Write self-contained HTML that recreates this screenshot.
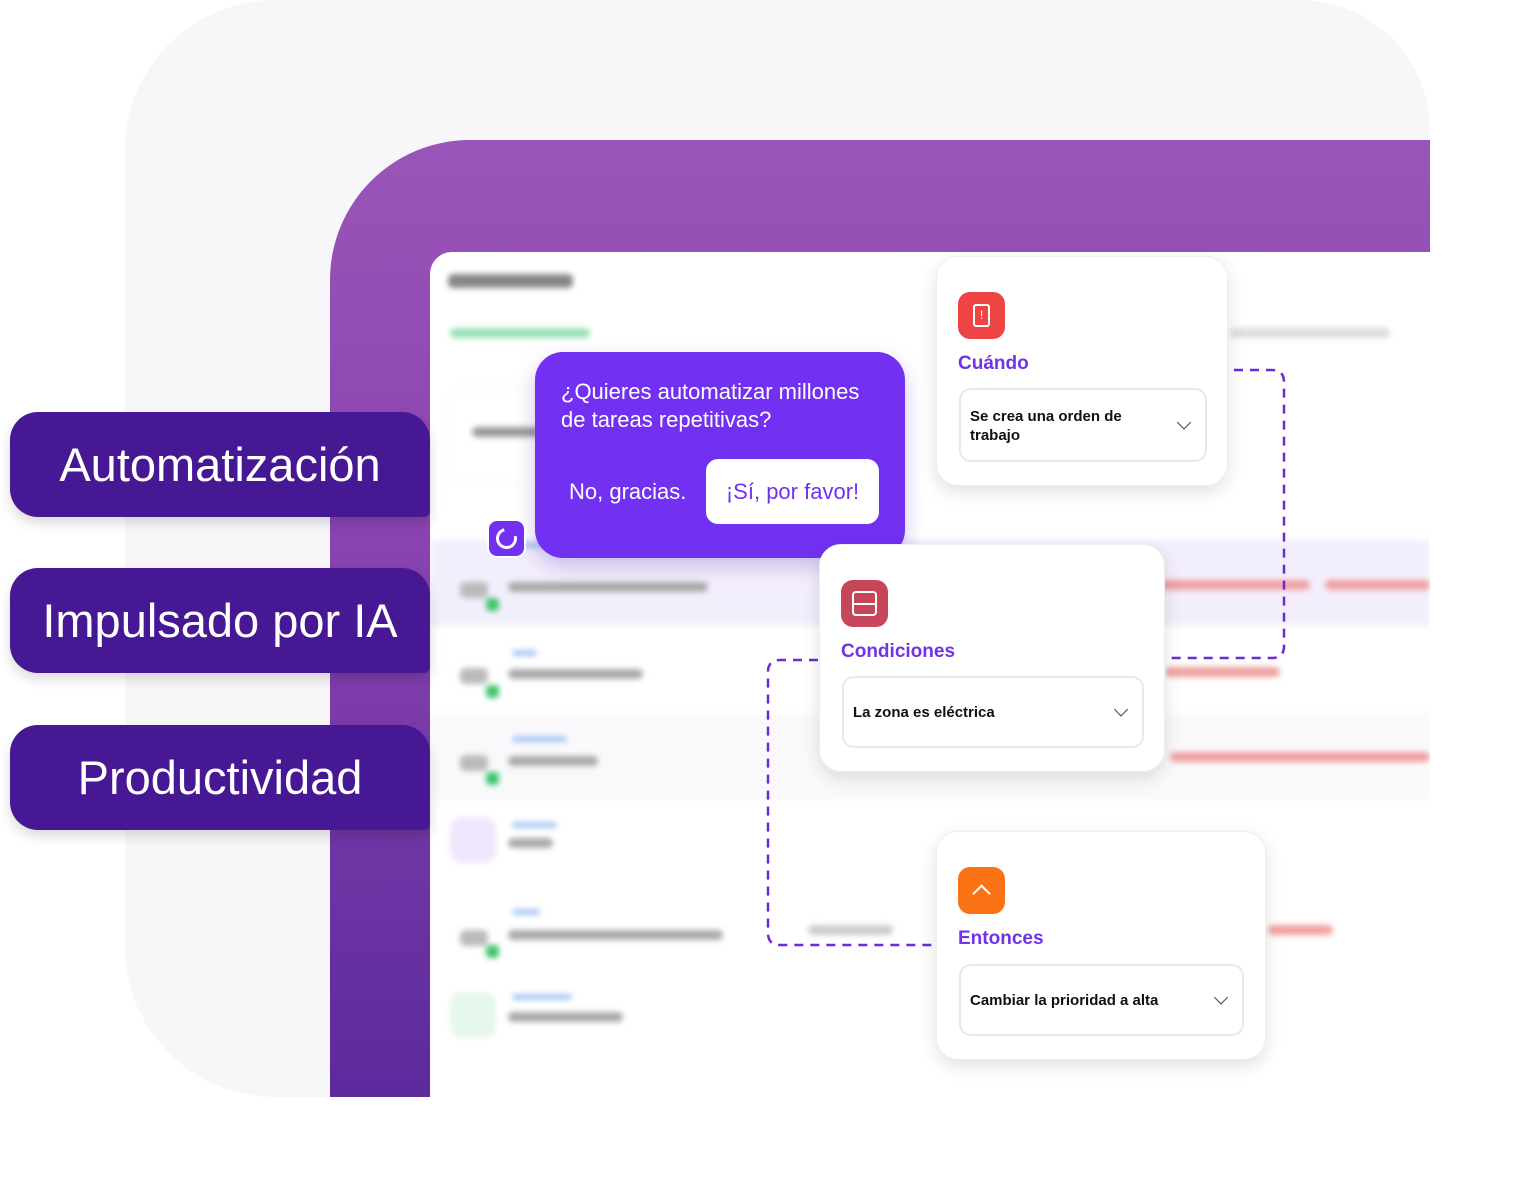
<!DOCTYPE html>
<html><head><meta charset="utf-8"><style>
*{margin:0;padding:0;box-sizing:border-box}
body{width:1536px;height:1189px;background:#fff;position:relative;overflow:hidden;font-family:"Liberation Sans",sans-serif}
.abs{position:absolute}
.gray{left:125px;top:0;width:1305px;height:1097px;background:#f7f7f9;border-radius:150px 130px 0 150px}
.purp{left:330px;top:140px;width:1100px;height:957px;border-top-left-radius:140px;background:linear-gradient(180deg,#9a55b8 0%,#8a44b0 40%,#5b2a9c 100%)}
.panel{left:430px;top:252px;width:1000px;height:845px;background:#fff;border-top-left-radius:22px;overflow:hidden}
.blur{filter:blur(3px)}
.pill{left:10px;width:420px;height:105px;background:#461893;border-radius:28px 28px 6px 28px;color:#fff;font-size:47px;text-align:center;line-height:105px;box-shadow:0 6px 12px rgba(0,0,0,.15)}
.pop{left:535px;top:352px;width:370px;height:206px;background:#7230f0;border-radius:28px;color:#fff;box-shadow:0 8px 20px rgba(80,30,180,.25)}
.card{background:#fff;border-radius:22px;box-shadow:0 6px 18px rgba(0,0,0,.12);border:1px solid #eee}
.icon{width:47px;height:47px;border-radius:12px}
.lbl{color:#7232e8;font-size:19px;font-weight:bold}
.sel{border:2px solid #e8e8ee;border-radius:12px;color:#111;font-size:15px;font-weight:bold}
.chev{position:absolute;right:16px;top:50%;width:10px;height:10px;border-right:1.5px solid #444;border-bottom:1.5px solid #444;transform:translateY(-75%) rotate(45deg)}
.row{position:absolute;left:0;width:1000px;height:86px}
.t{position:absolute;height:10px;border-radius:5px}
</style></head><body>
<div class="abs gray"></div>
<div class="abs purp"></div>
<div class="abs panel">
 <div class="blur">
  <div class="t" style="left:18px;top:22px;width:125px;height:14px;background:#888"></div>
  <div class="t" style="left:20px;top:76px;width:140px;background:#9be0b5"></div>
  <div class="t" style="left:800px;top:76px;width:160px;background:#ddd"></div>
  <div class="abs" style="left:20px;top:135px;width:120px;height:95px;border:1px solid #eee;border-radius:14px"></div>
  <div class="t" style="left:42px;top:175px;width:70px;background:#999"></div>
  <div class="row" style="top:288px;background:#f3eefc"></div>
  <div class="row" style="top:462px;background:#f9f9fb"></div>
  <div class="t" style="left:30px;top:330px;width:28px;height:16px;background:#bbb"></div>
  <div class="t" style="left:78px;top:330px;width:200px;background:#aaa"></div>
  <div class="t" style="left:730px;top:328px;width:150px;background:#f0a0a0"></div>
  <div class="t" style="left:895px;top:328px;width:105px;background:#f0a0a0"></div>
  <div class="t" style="left:30px;top:416px;width:28px;height:16px;background:#bbb"></div>
  <div class="t" style="left:78px;top:417px;width:135px;background:#aaa"></div>
  <div class="t" style="left:735px;top:415px;width:115px;background:#f0a0a0"></div>
  <div class="t" style="left:30px;top:503px;width:28px;height:16px;background:#bbb"></div>
  <div class="t" style="left:78px;top:504px;width:90px;background:#aaa"></div>
  <div class="t" style="left:740px;top:500px;width:260px;background:#f0a0a0"></div>
  <div class="abs" style="left:20px;top:565px;width:46px;height:46px;border-radius:12px;background:#efe6fd"></div>
  <div class="t" style="left:78px;top:586px;width:45px;background:#aaa"></div>
  <div class="t" style="left:30px;top:678px;width:28px;height:16px;background:#bbb"></div>
  <div class="t" style="left:78px;top:678px;width:215px;background:#aaa"></div>
  <div class="t" style="left:378px;top:673px;width:85px;background:#ccc"></div>
  <div class="t" style="left:838px;top:673px;width:65px;background:#f0a0a0"></div>
  <div class="abs" style="left:20px;top:740px;width:46px;height:46px;border-radius:12px;background:#e6f7ec"></div>
  <div class="t" style="left:78px;top:760px;width:115px;background:#aaa"></div>
  <div class="t" style="left:82px;top:290px;width:40px;height:6px;background:#a9c8f5"></div>
  <div class="t" style="left:82px;top:398px;width:25px;height:6px;background:#a9c8f5"></div>
  <div class="t" style="left:82px;top:484px;width:55px;height:6px;background:#a9c8f5"></div>
  <div class="t" style="left:82px;top:570px;width:45px;height:6px;background:#a9c8f5"></div>
  <div class="t" style="left:82px;top:657px;width:28px;height:6px;background:#a9c8f5"></div>
  <div class="t" style="left:82px;top:742px;width:60px;height:6px;background:#a9c8f5"></div>
  <div class="abs" style="left:56px;top:346px;width:13px;height:13px;border-radius:4px;background:#3fc46c"></div>
  <div class="abs" style="left:56px;top:433px;width:13px;height:13px;border-radius:4px;background:#3fc46c"></div>
  <div class="abs" style="left:56px;top:520px;width:13px;height:13px;border-radius:4px;background:#3fc46c"></div>
  <div class="abs" style="left:56px;top:693px;width:13px;height:13px;border-radius:4px;background:#3fc46c"></div>
 </div>
</div>
<div class="abs pill" style="top:412px">Automatización</div>
<div class="abs pill" style="top:568px">Impulsado por IA</div>
<div class="abs pill" style="top:725px">Productividad</div>

<svg class="abs" style="left:0;top:0" width="1536" height="1189">
 <path d="M1234 370 H1272 Q1284 370 1284 382 V646 Q1284 658 1272 658 H1166" fill="none" stroke="#6a2ad8" stroke-width="2.5" stroke-dasharray="9 7"/>
 <path d="M818 660 H780 Q768 660 768 672 V933 Q768 945 780 945 H936" fill="none" stroke="#6a2ad8" stroke-width="2.5" stroke-dasharray="9 7"/>
</svg>

<div class="abs pop">
 <div class="abs" style="left:26px;top:26px;font-size:22px;line-height:28px">¿Quieres automatizar millones<br>de tareas repetitivas?</div>
 <div class="abs" style="left:34px;top:127px;font-size:22px">No, gracias.</div>
 <div class="abs" style="left:171px;top:107px;width:173px;height:65px;background:#fff;border-radius:12px;color:#7230f0;font-size:22px;text-align:center;line-height:65px">¡Sí, por favor!</div>
</div>
<div class="abs" style="left:487px;top:519px;width:39px;height:39px;background:#7230f0;border-radius:10px;border:2px solid #fff"><div class="abs" style="left:7px;top:7px;width:21px;height:21px;border:3px solid #fff;border-top-color:transparent;border-radius:50%;transform:rotate(30deg)"></div></div>

<div class="abs card" style="left:936px;top:256px;width:292px;height:230px">
 <div class="abs icon" style="left:21px;top:35px;background:#ef4444"><div class="abs" style="left:15px;top:12px;width:17px;height:23px;border:2px solid #fff;border-radius:3px;color:#fff;font-size:12px;text-align:center;line-height:18px">!</div></div>
 <div class="abs lbl" style="left:21px;top:96px">Cuándo</div>
 <div class="abs sel" style="left:22px;top:131px;width:248px;height:74px;padding:17px 0 0 9px;line-height:19px">Se crea una orden de<br>trabajo<span class="chev"></span></div>
</div>
<div class="abs card" style="left:819px;top:544px;width:346px;height:228px">
 <div class="abs icon" style="left:21px;top:35px;background:#c8465a"><div class="abs" style="left:11px;top:11px;width:25px;height:25px;border:2px solid #fff;border-radius:4px"><div class="abs" style="left:0;top:10px;width:21px;border-top:2px solid #fff"></div></div></div>
 <div class="abs lbl" style="left:21px;top:96px">Condiciones</div>
 <div class="abs sel" style="left:22px;top:131px;width:302px;height:72px;padding:0 0 0 9px;line-height:70px">La zona es eléctrica<span class="chev"></span></div>
</div>
<div class="abs card" style="left:936px;top:831px;width:330px;height:229px">
 <div class="abs icon" style="left:21px;top:35px;background:#f97316"><div class="abs" style="left:17px;top:20px;width:13px;height:13px;border-left:2px solid #fff;border-top:2px solid #fff;transform:rotate(45deg)"></div></div>
 <div class="abs lbl" style="left:21px;top:96px">Entonces</div>
 <div class="abs sel" style="left:22px;top:132px;width:285px;height:72px;padding:0 0 0 9px;line-height:70px">Cambiar la prioridad a alta<span class="chev"></span></div>
</div>
</body></html>
